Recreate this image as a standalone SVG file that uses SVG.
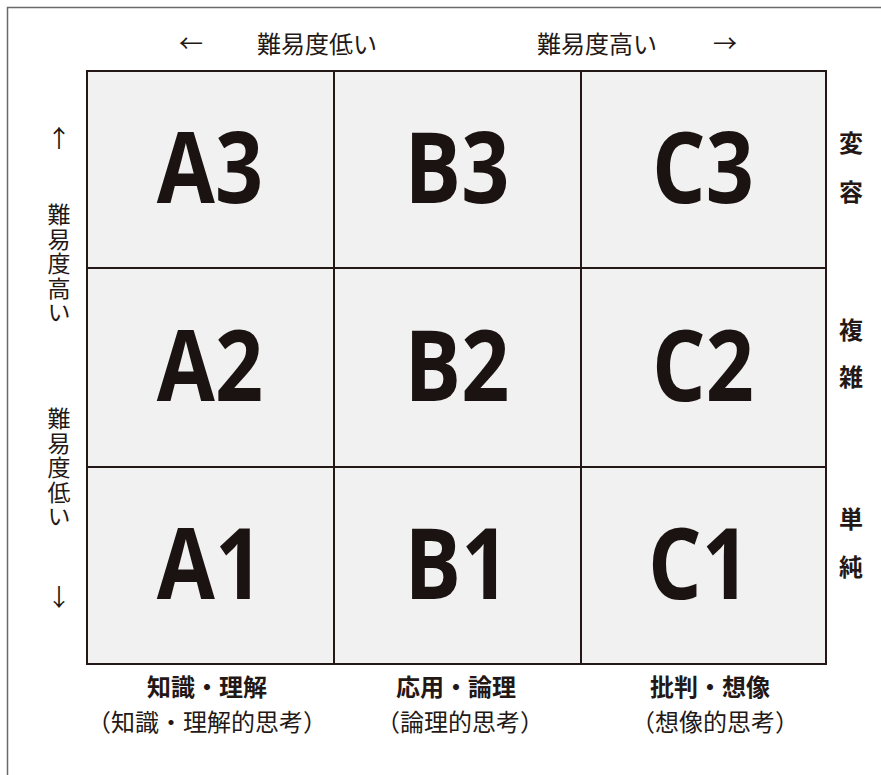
<svg xmlns="http://www.w3.org/2000/svg" width="881" height="775" viewBox="0 0 881 775">
<style>
.frame{stroke:#6a6a6a;stroke-width:1.5;fill:none}
.cell{fill:#f1f1f1;stroke:#231815;stroke-width:2}
.big{font-family:"Open Sans","Noto Sans",sans-serif;font-weight:700;font-size:98px;fill:#1a1311;text-anchor:middle}
.lab{font-family:"Noto Sans CJK JP","Noto Sans",sans-serif;font-size:24px;fill:#231815;text-anchor:middle}
.vert{font-family:"Noto Sans CJK JP","Noto Sans",sans-serif;font-size:23px;fill:#231815;writing-mode:vertical-rl;text-anchor:start;letter-spacing:1.5px}
.bold{font-weight:700}
.sub{font-size:24px}
</style>
<rect width="881" height="775" fill="#ffffff"/>
<path class="frame" d="M7.5,775 V7.5 H881"/>
<g id="top-labels">
<text class="lab" x="191" y="52">←</text>
<text class="lab" x="317" y="52.5" font-size="25">難易度低い</text>
<text class="lab" x="597" y="52.5" font-size="25">難易度高い</text>
<text class="lab" x="725" y="52">→</text>
</g>
<g id="left-labels">
<text class="lab" x="59" y="147">↑</text>
<text class="vert" x="59" y="203">難易度高い</text>
<text class="vert" x="59" y="407">難易度低い</text>
<text class="lab" x="59" y="606">↓</text>
</g>
<g id="right-labels">
<text class="lab bold" x="851" y="152" font-size="23">変</text>
<text class="lab bold" x="851" y="201" font-size="23">容</text>
<text class="lab bold" x="851" y="339" font-size="23">複</text>
<text class="lab bold" x="851" y="386" font-size="23">雑</text>
<text class="lab bold" x="851" y="528" font-size="23">単</text>
<text class="lab bold" x="851" y="576" font-size="23">純</text>
</g>
<g id="A3"><rect class="cell" x="87" y="71" width="247" height="197"/><text class="big" transform="translate(210,203) scale(0.86,1)">A3</text></g>
<g id="B3"><rect class="cell" x="334" y="71" width="247" height="197"/><text class="big" transform="translate(457,203) scale(0.86,1)">B3</text></g>
<g id="C3"><rect class="cell" x="581" y="71" width="245" height="197"/><text class="big" transform="translate(703,203) scale(0.86,1)">C3</text></g>
<g id="A2"><rect class="cell" x="87" y="268" width="247" height="199"/><text class="big" transform="translate(210,401) scale(0.86,1)">A2</text></g>
<g id="B2"><rect class="cell" x="334" y="268" width="247" height="199"/><text class="big" transform="translate(457,401) scale(0.86,1)">B2</text></g>
<g id="C2"><rect class="cell" x="581" y="268" width="245" height="199"/><text class="big" transform="translate(703,401) scale(0.86,1)">C2</text></g>
<g id="A1"><rect class="cell" x="87" y="467" width="247" height="197"/><text class="big" transform="translate(210,599) scale(0.86,1)">A1</text></g>
<g id="B1"><rect class="cell" x="334" y="467" width="247" height="197"/><text class="big" transform="translate(457,599) scale(0.86,1)">B1</text></g>
<g id="C1"><rect class="cell" x="581" y="467" width="245" height="197"/><text class="big" transform="translate(699,599) scale(0.86,1)">C1</text></g>
<g id="bottom-labels">
<text class="lab bold" x="207" y="696" font-size="24">知識・理解</text>
<text class="lab sub" x="207" y="731">（知識・理解的思考）</text>
<text class="lab bold" x="456" y="696" font-size="24">応用・論理</text>
<text class="lab sub" x="460" y="731">（論理的思考）</text>
<text class="lab bold" x="710" y="696" font-size="24">批判・想像</text>
<text class="lab sub" x="715" y="731">（想像的思考）</text>
</g>
</svg>
